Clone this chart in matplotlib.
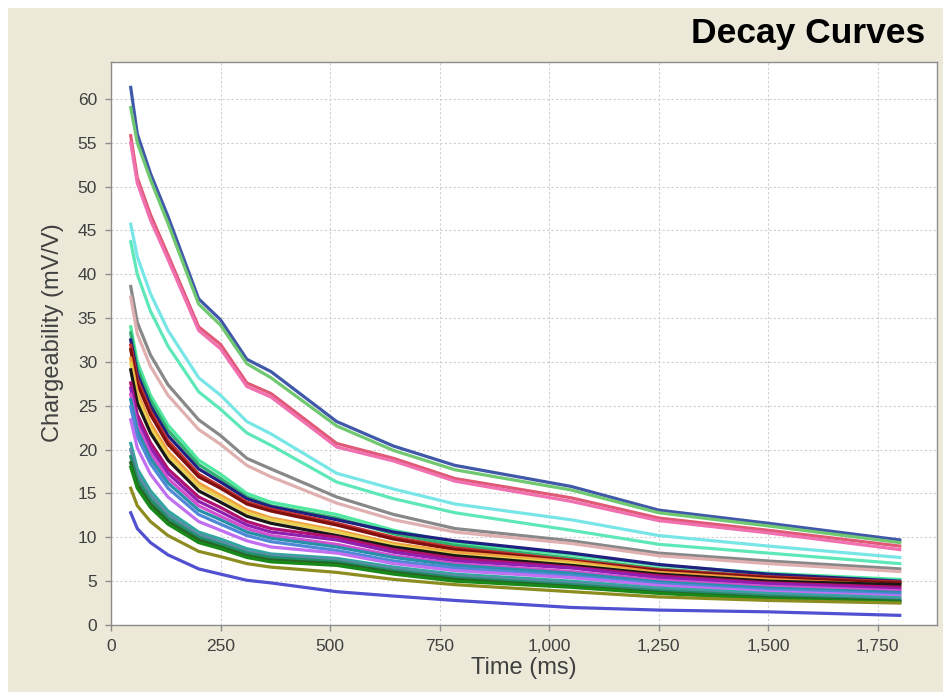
import matplotlib
matplotlib.use('Agg')
import matplotlib.pyplot as plt
from matplotlib.patches import Rectangle
from matplotlib.ticker import FuncFormatter, MultipleLocator

# Gate times (ms)
times = [45, 60, 90, 130, 200, 250, 310, 365, 515, 645, 785, 1050, 1250, 1500, 1800]

# Chargeability per decay curve (mV/V), top to bottom
c01 = [61.3, 56.0, 51.5, 46.6, 37.2, 34.8, 30.3, 28.9, 23.2, 20.4, 18.2, 15.8, 13.1, 11.6, 9.7]
c02 = [59.0, 55.0, 50.8, 45.8, 36.6, 34.2, 29.8, 28.2, 22.7, 19.9, 17.7, 15.4, 12.8, 11.3, 9.4]
c03 = [55.8, 51.0, 46.8, 42.2, 34.0, 32.0, 27.6, 26.4, 20.7, 19.0, 16.7, 14.5, 12.2, 10.8, 9.0]
c04 = [55.0, 50.4, 46.2, 41.7, 33.6, 31.5, 27.2, 26.0, 20.3, 18.7, 16.4, 14.1, 11.9, 10.5, 8.6]
c05 = [45.7, 42.0, 37.8, 33.6, 28.2, 26.2, 23.2, 21.8, 17.3, 15.5, 13.8, 12.0, 10.2, 9.0, 7.7]
c06 = [43.7, 40.0, 35.8, 31.8, 26.6, 24.6, 21.9, 20.5, 16.3, 14.4, 12.8, 10.8, 9.2, 8.2, 7.0]
c07 = [38.6, 34.5, 30.8, 27.4, 23.4, 21.6, 19.0, 17.8, 14.6, 12.6, 11.0, 9.6, 8.2, 7.3, 6.4]
c08 = [37.4, 33.2, 29.5, 26.2, 22.3, 20.6, 18.2, 16.9, 13.9, 12.0, 10.6, 9.3, 7.9, 7.0, 6.1]
c09 = [34.0, 30.0, 26.2, 22.8, 18.8, 17.2, 15.0, 14.0, 12.6, 10.8, 9.4, 8.0, 6.8, 5.9, 5.2]
c10 = [33.3, 29.3, 25.6, 22.2, 18.3, 16.7, 14.6, 13.6, 12.2, 10.4, 9.1, 7.6, 6.4, 5.5, 4.8]
c11 = [32.5, 28.6, 25.0, 21.6, 17.8, 16.3, 14.4, 13.5, 12.0, 10.6, 9.6, 8.2, 6.9, 5.8, 5.0]
c12 = [31.9, 28.0, 24.4, 21.0, 17.2, 15.8, 14.0, 13.2, 11.6, 10.0, 8.8, 7.4, 6.3, 5.5, 4.9]
c13 = [31.4, 27.5, 24.0, 20.6, 16.9, 15.6, 13.8, 13.0, 11.4, 9.8, 8.6, 7.3, 6.2, 5.4, 4.8]
c14 = [30.4, 26.5, 23.0, 19.8, 16.2, 14.8, 13.1, 12.2, 10.8, 9.3, 8.3, 7.2, 6.0, 5.2, 4.5]
c15 = [29.8, 26.0, 22.5, 19.3, 15.8, 14.5, 12.8, 12.0, 10.6, 9.1, 8.0, 7.0, 5.8, 5.0, 4.4]
c16 = [29.1, 25.3, 21.9, 18.8, 15.3, 14.0, 12.4, 11.6, 10.2, 8.9, 7.9, 6.8, 5.8, 5.0, 4.6]
c17 = [27.6, 24.0, 20.8, 17.8, 14.6, 13.4, 11.8, 11.0, 10.0, 8.6, 7.6, 6.6, 5.6, 4.8, 4.3]
c18 = [27.0, 23.4, 20.2, 17.3, 14.1, 12.9, 11.4, 10.6, 9.7, 8.3, 7.3, 6.5, 5.4, 4.7, 4.1]
c19 = [26.3, 22.8, 19.6, 16.7, 13.6, 12.4, 11.0, 10.2, 9.2, 7.9, 7.0, 6.1, 5.1, 4.4, 3.9]
c20 = [25.7, 22.2, 19.0, 16.2, 13.1, 12.0, 10.6, 9.9, 8.9, 7.7, 6.8, 5.9, 4.9, 4.2, 3.7]
c21 = [24.9, 21.5, 18.4, 15.6, 12.6, 11.5, 10.2, 9.5, 8.5, 7.3, 6.5, 5.6, 4.7, 4.0, 3.5]
c22 = [23.4, 20.2, 17.2, 14.6, 11.8, 10.8, 9.6, 8.9, 8.2, 7.0, 6.2, 5.4, 4.5, 3.8, 3.3]
c23 = [20.7, 17.8, 15.3, 13.0, 10.6, 9.8, 8.7, 8.1, 7.6, 6.6, 5.8, 5.0, 4.2, 3.6, 3.1]
c24 = [20.0, 17.2, 14.8, 12.6, 10.3, 9.5, 8.4, 7.9, 7.4, 6.4, 5.6, 4.8, 4.0, 3.4, 2.9]
c25 = [19.2, 16.6, 14.3, 12.2, 10.0, 9.2, 8.2, 7.7, 7.2, 6.2, 5.4, 4.6, 3.9, 3.3, 2.8]
c26 = [18.5, 16.0, 13.8, 11.8, 9.7, 8.9, 7.9, 7.4, 7.0, 6.0, 5.2, 4.4, 3.7, 3.1, 2.7]
c27 = [18.0, 15.6, 13.4, 11.5, 9.4, 8.7, 7.7, 7.2, 6.8, 5.8, 5.0, 4.3, 3.6, 3.0, 2.6]
c28 = [15.6, 13.6, 11.8, 10.2, 8.4, 7.8, 7.0, 6.6, 6.0, 5.2, 4.6, 3.8, 3.2, 2.8, 2.5]
c29 = [12.8, 11.0, 9.4, 8.0, 6.4, 5.8, 5.1, 4.8, 3.8, 3.3, 2.8, 2.0, 1.7, 1.5, 1.1]

curves = [c01, c02, c03, c04, c05, c06, c07, c08, c09, c10, c11, c12, c13, c14, c15,
          c16, c17, c18, c19, c20, c21, c22, c23, c24, c25, c26, c27, c28, c29]
colors = ['#4058A8', '#70C870', '#E05A78', '#F070B0', '#78E6E6', '#5EE8B8', '#888888',
          '#E0B0B0', '#50E8A0', '#30B070', '#202080', '#C03030', '#801010', '#F0A040',
          '#E8D050', '#181818', '#B01070', '#9020B0', '#D050D0', '#2890A8', '#5088D8',
          '#C070F0', '#30A8A0', '#5C8CA8', '#20906A', '#286428', '#188818', '#8C8C20',
          '#5050D0']

bg = '#ECE9D8'
fig = plt.figure(figsize=(9.43, 7), dpi=100)
fig.patch.set_facecolor('white')
panel = Rectangle((8 / 943, 8 / 700), 1 - 8 / 943, 1 - 16 / 700,
                  transform=fig.transFigure, facecolor=bg, edgecolor='none', zorder=-10)
fig.add_artist(panel)

ax = fig.add_axes([111 / 943, 1 - 625 / 700, (937 - 111) / 943, (625 - 62) / 700])
ax.set_zorder(1)
ax.set_facecolor('white')

for vals, col in zip(curves, colors):
    ax.plot(times, vals, color=col, lw=2.3, solid_joinstyle='round')

ax.set_xlim(0, 1885)
ax.set_ylim(0, 64.2)
ax.xaxis.set_major_locator(MultipleLocator(250))
ax.yaxis.set_major_locator(MultipleLocator(5))
ax.xaxis.set_major_formatter(FuncFormatter(lambda v, p: f'{int(v):,}'))
ax.grid(True, color='#CFCFCF', linestyle=(0, (2, 2)), lw=0.8)
ax.set_axisbelow(True)
for s in ax.spines.values():
    s.set_color('#8C8C8C')
    s.set_linewidth(1.0)
ax.tick_params(colors='#8C8C8C', length=4, width=1, labelcolor='#404040',
               labelsize=12.5, pad=6)
for lab in ax.get_xticklabels() + ax.get_yticklabels():
    lab.set_family('Liberation Sans')

ax.set_xlabel('Time (ms)', fontsize=17, family='Liberation Sans', color='#404040', labelpad=2)
ax.set_ylabel('Chargeability (mV/V)', fontsize=17, family='Liberation Sans', color='#404040',
              labelpad=10, y=0.52)

fig.text(925 / 943, 1 - 33 / 700, 'Decay Curves', ha='right', va='center',
         fontsize=25.5, fontweight='bold', family='Liberation Sans', color='black')

fig.savefig('out.png', dpi=100, facecolor=fig.get_facecolor())
